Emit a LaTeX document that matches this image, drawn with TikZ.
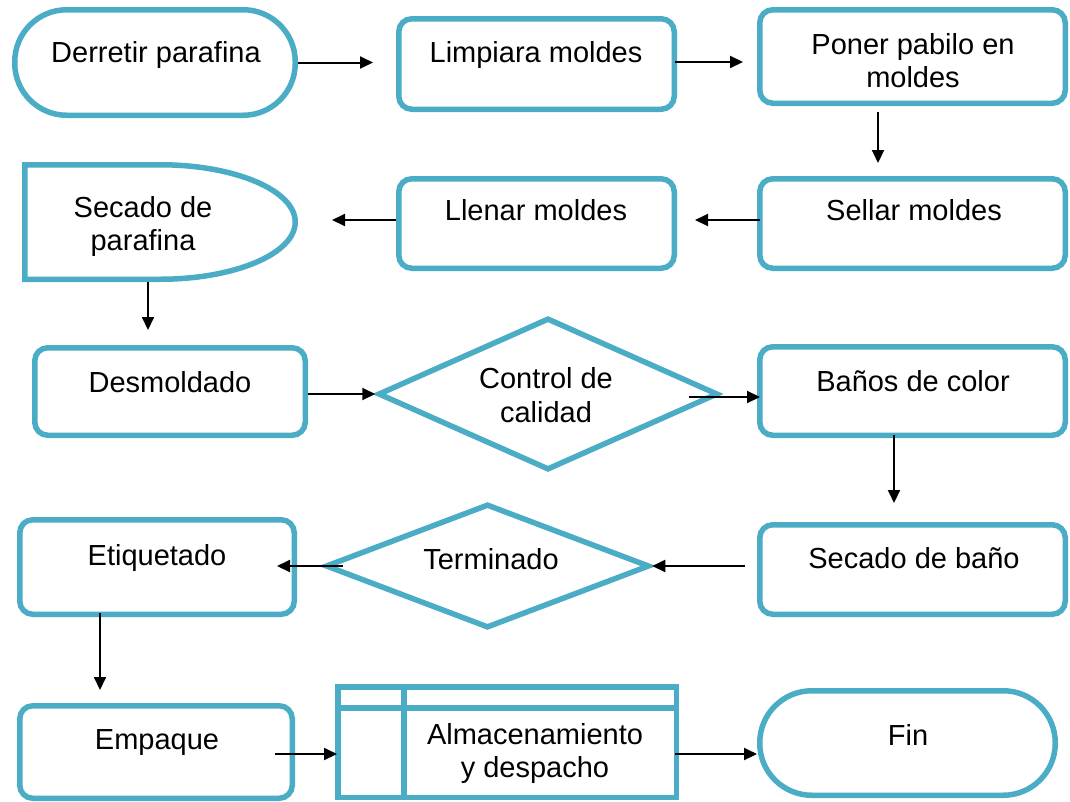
\documentclass[tikz,border=0pt]{standalone}
\usepackage{fontspec}
\setmainfont{Liberation Sans}
\usetikzlibrary{shapes.geometric,arrows.meta,calc}
\definecolor{bl}{RGB}{75,172,198}
\begin{document}
\begin{tikzpicture}[x=1pt,y=-1pt,
  shp/.style={draw=bl,line width=5.5pt,fill=white,inner sep=0pt},
  box/.style={shp,rectangle,rounded corners=13pt},
  term/.style={shp,rectangle,rounded corners=52pt},
  dia/.style={shp,diamond},
  dshape/.style={draw=bl,line width=5.5pt,fill=white},
  txt/.style={anchor=base,inner sep=0pt,font=\fontsize{29}{33}\selectfont},
  arr/.style={line width=2pt,-{Triangle[length=13pt,width=12pt]}}]
\useasboundingbox (0,0) rectangle (1070,801);

% shapes
\node[term,minimum width=280.5pt,minimum height=105.5pt] (derretir) at (155,62.5) {};
\node[box,minimum width=275.5pt,minimum height=90.5pt] (limpiara) at (536.5,64) {};
\node[box,minimum width=305.5pt,minimum height=93.5pt] (poner) at (912.5,56.5) {};

\node[rectangle,minimum width=276pt,minimum height=120pt,inner sep=0pt,outer sep=0pt] (secpar) at (160,222) {};
\draw[dshape] (24.75,164.75) -- (160,164.75)
  .. controls (234.7,164.75) and (295.25,190.38) .. (295.25,222)
  .. controls (295.25,253.62) and (234.7,279.25) .. (160,279.25)
  -- (24.75,279.25) -- cycle;
\node[box,minimum width=275.5pt,minimum height=89.5pt] (llenar) at (536.5,223.5) {};
\node[box,minimum width=305.5pt,minimum height=89.5pt] (sellar) at (912.5,223.5) {};

\node[box,minimum width=270.5pt,minimum height=87.5pt] (desmoldado) at (170,391.5) {};
\node[dia,minimum width=340pt,minimum height=152pt] (control) at (548,394) {};
\node[box,minimum width=305.5pt,minimum height=88.5pt] (banos) at (912.5,391) {};

\node[box,minimum width=274.5pt,minimum height=94.5pt] (etiquetado) at (157,567) {};
\node[dia,minimum width=324pt,minimum height=124pt] (terminado) at (487.5,566) {};
\node[box,minimum width=305.5pt,minimum height=89.5pt] (secbano) at (912.5,569.5) {};

\node[box,minimum width=272.5pt,minimum height=92.5pt] (empaque) at (156,752) {};
\node[shp,rectangle,minimum width=338.5pt,minimum height=110.5pt] (alm) at (507,742) {};
\draw[draw=bl,line width=5.5pt] ($(alm.north west)+(0,24)$) -- ($(alm.north east)+(0,24)$);
\draw[draw=bl,line width=5.5pt] ($(alm.north west)+(69,0)$) -- ($(alm.south west)+(69,0)$);
\node[term,minimum width=295.5pt,minimum height=104.5pt] (fin) at (907.5,743) {};

% texts
\node[txt] (t1) at (156,62) {Derretir parafina};
\node[txt] (t2) at (536,62) {Limpiara moldes};
\node[txt] (t3a) at (913,54) {Poner pabilo en};
\node[txt] (t3b) at (913,87) {moldes};
\node[txt] (t4a) at (143,217) {Secado de};
\node[txt] (t4b) at (143,250) {parafina};
\node[txt] (t5) at (536,220) {Llenar moldes};
\node[txt] (t6) at (914,220) {Sellar moldes};
\node[txt] (t7) at (170,392) {Desmoldado};
\node[txt] (t8a) at (546,388) {Control de};
\node[txt] (t8b) at (546,422) {calidad};
\node[txt] (t9) at (913,391) {Baños de color};
\node[txt] (t10) at (157,565) {Etiquetado};
\node[txt] (t11) at (491,569) {Terminado};
\node[txt] (t12) at (914,568) {Secado de baño};
\node[txt] (t13) at (157,749) {Empaque};
\node[txt] (t14a) at (535,744) {Almacenamiento};
\node[txt] (t14b) at (535,777) {y despacho};
\node[txt] (t15) at (908,745) {Fin};

% connectors
\draw[arr,shorten >=23pt] (derretir.east) -- (derretir.east -| limpiara.west);
\draw[arr,shorten <=-2pt,shorten >=14pt] ($(limpiara.east)+(0,-2)$) -- ($(limpiara.east -| poner.west)+(0,-2)$);
\draw[arr,shorten <=6pt,shorten >=13pt] ([xshift=-34.5pt]poner.south) -- ([xshift=-34.5pt]sellar.north);
\draw[arr,shorten <=-3pt,shorten >=18pt] ($(sellar.west)+(0,-3.5)$) -- ($(sellar.west -| llenar.east)+(0,-3.5)$);
\draw[arr,shorten >=34pt] ($(llenar.west)+(0,-3.5)$) -- ($(llenar.west -| secpar.east)+(0,-3.5)$);
\draw[arr,shorten >=15pt] ([xshift=-12pt]secpar.south) -- ([xshift=-12pt]secpar.south |- desmoldado.north);
\draw[arr] (control.west -| desmoldado.east) -- (control.west);
\draw[arr,shorten <=-32pt,shorten >=-3pt] ($(control.east)+(0,3)$) -- ($(control.east -| banos.west)+(0,3)$);
\draw[arr,shorten <=-3pt,shorten >=19pt] ([xshift=-18.5pt]banos.south) -- ([xshift=-18.5pt]secbano.north);
\draw[arr,shorten <=12pt] (terminado.east -| secbano.west) -- (terminado.east);
\draw[arr,shorten <=-20pt,shorten >=-20pt] (terminado.west) -- (terminado.west -| etiquetado.east);
\draw[arr,shorten <=-4pt,shorten >=13pt] ([xshift=-57pt]etiquetado.south) -- ([xshift=-57pt]etiquetado.south |- empaque.north);
\draw[arr,shorten <=-20pt,shorten >=-2pt] ($(empaque.east)+(0,2)$) -- ($(empaque.east -| alm.west)+(0,2)$);
\draw[arr,shorten <=-4pt] ($(alm.east)+(0,12)$) -- ($(alm.east -| fin.west)+(0,12)$);
\end{tikzpicture}
\end{document}
